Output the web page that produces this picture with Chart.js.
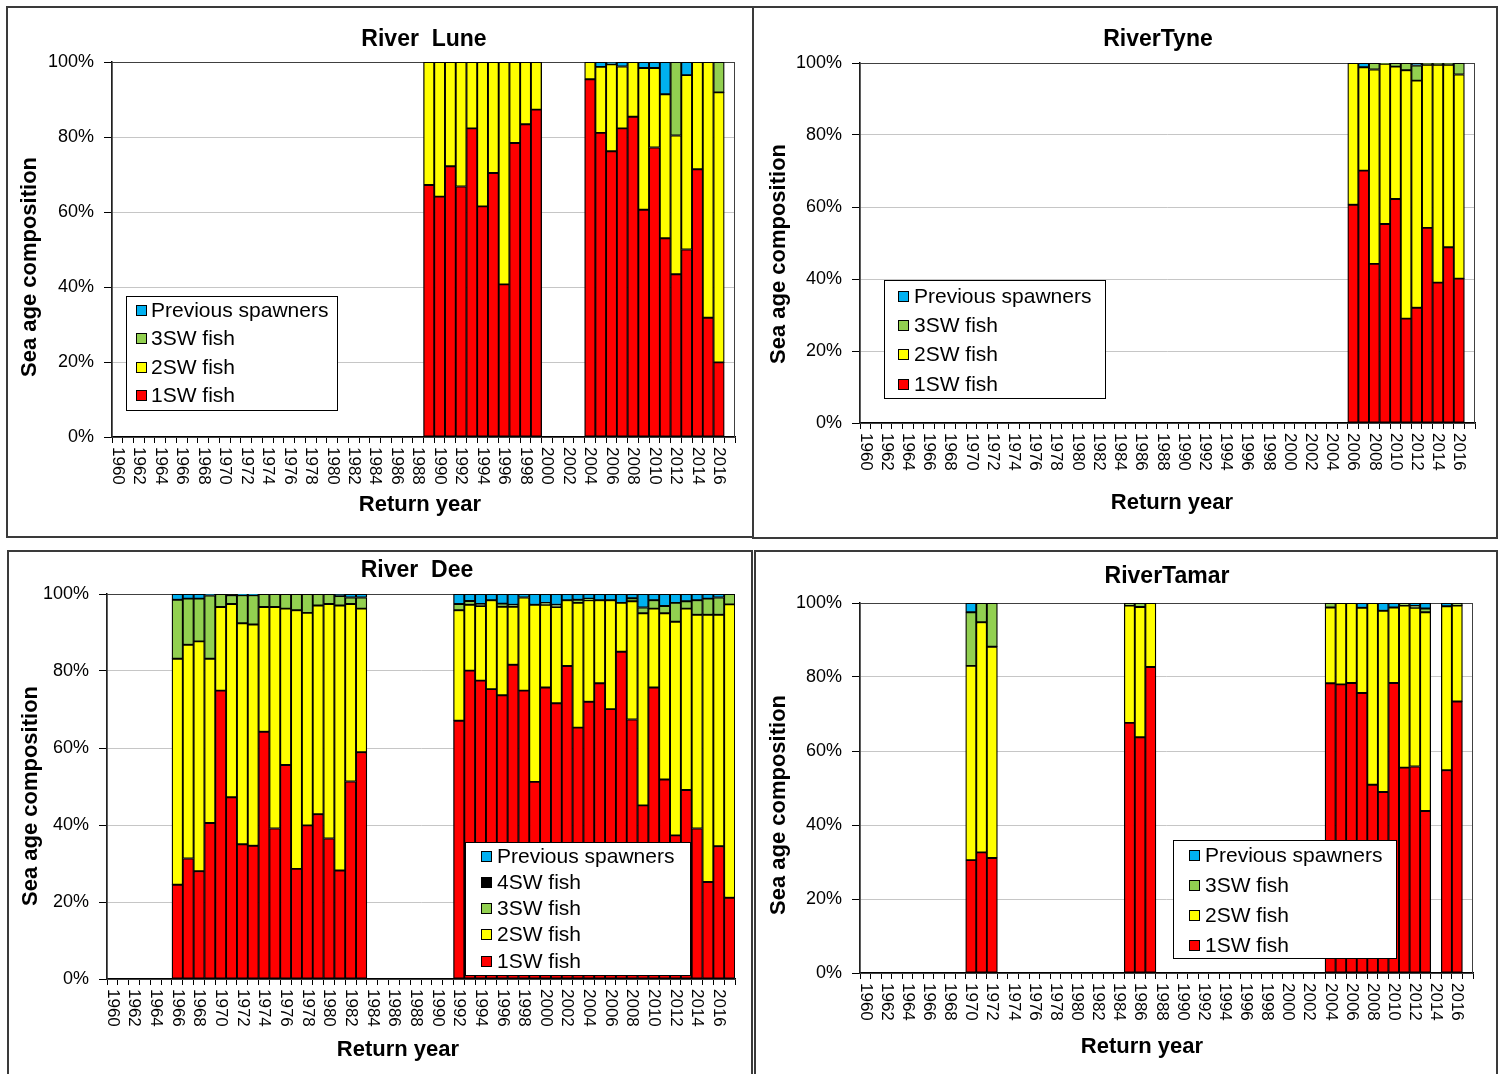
<!DOCTYPE html>
<html>
<head>
<meta charset="utf-8">
<script src="https://cdn.jsdelivr.net/npm/chart.js@4.4.1/dist/chart.umd.min.js"></script>
<style>
  body { margin: 0; background: #fff; width: 1503px; height: 1074px; overflow: hidden; position: relative; }
  .box { position: absolute; border: 2px solid #3a3a3a; box-sizing: border-box; }
  canvas { position: absolute; }
</style>
</head>
<body>
<div class="box" style="left:6px;top:6px;width:748px;height:532px"></div>
<div class="box" style="left:752px;top:6px;width:746px;height:533px"></div>
<div class="box" style="left:7px;top:550px;width:746px;height:560px"></div>
<div class="box" style="left:754px;top:550px;width:744px;height:560px"></div>
<canvas id="lune"></canvas>
<canvas id="tyne"></canvas>
<canvas id="dee"></canvas>
<canvas id="tamar"></canvas>
<script>
// categories (return years)
const YEARS = [1960, 1961, 1962, 1963, 1964, 1965, 1966, 1967, 1968, 1969,
               1970, 1971, 1972, 1973, 1974, 1975, 1976, 1977, 1978, 1979,
               1980, 1981, 1982, 1983, 1984, 1985, 1986, 1987, 1988, 1989,
               1990, 1991, 1992, 1993, 1994, 1995, 1996, 1997, 1998, 1999,
               2000, 2001, 2002, 2003, 2004, 2005, 2006, 2007, 2008, 2009,
               2010, 2011, 2012, 2013, 2014, 2015, 2016, 2017];

// River Lune (% of run)
const luneYears = [1989, 1990, 1991, 1992, 1993, 1994, 1995, 1996, 1997, 1998, 1999,
                   2004, 2005, 2006, 2007, 2008, 2009, 2010, 2011, 2012, 2013, 2014, 2015, 2016];
const lune1SW  = [67.2, 64.1, 72.2, 66.8, 82.3, 61.5, 70.4, 40.7, 78.4, 83.4, 87.3,
                  95.4, 81.1, 76.2, 82.3, 85.4, 60.6, 77.2, 53.0, 43.4, 50.0, 71.4, 31.8, 19.9];
const lune2SW  = [32.8, 35.9, 27.8, 33.2, 17.7, 38.5, 29.6, 59.3, 21.6, 16.6, 12.7,
                  4.6, 17.6, 23.2, 16.5, 14.6, 37.8, 21.2, 38.4, 37.0, 46.5, 28.6, 68.2, 72.0];
const lune3SW  = [null, null, null, null, null, null, null, null, null, null, null,
                  null, null, null, null, null, null, null, null, 19.6, null, null, null, 8.1];
const lunePrev = [null, null, null, null, null, null, null, null, null, null, null,
                  null, 1.3, 0.6, 1.2, null, 1.6, 1.6, 8.6, null, 3.5, null, null, null];

// River Tyne
const tyneYears = [2006, 2007, 2008, 2009, 2010, 2011, 2012, 2013, 2014, 2015, 2016];
const tyne1SW  = [60.6, 70.1, 44.2, 55.3, 62.2, 29.0, 32.0, 54.2, 39.0, 48.8, 40.1];
const tyne2SW  = [39.4, 28.7, 54.0, 44.5, 36.8, 69.0, 63.1, 45.3, 60.5, 50.7, 56.7];
const tyne3SW  = [null, null, 1.8, 0.2, 1.0, 2.0, 4.2, 0.5, 0.5, 0.5, 3.2];
const tynePrev = [null, 1.2, null, null, null, null, 0.7, null, null, null, null];

// River Dee
const deeYears = [1966, 1967, 1968, 1969, 1970, 1971, 1972, 1973, 1974, 1975, 1976, 1977,
                  1978, 1979, 1980, 1981, 1982, 1983,
                  1992, 1993, 1994, 1995, 1996, 1997, 1998, 1999, 2000, 2001, 2002, 2003,
                  2004, 2005, 2006, 2007, 2008, 2009, 2010, 2011, 2012, 2013, 2014, 2015, 2016, 2017];
const dee1SW  = [24.5, 31.3, 28.0, 40.5, 74.9, 47.2, 35.0, 34.6, 64.2, 39.1, 55.6, 28.6,
                 39.9, 42.8, 36.5, 28.2, 51.3, 58.9,
                 67.1, 80.1, 77.5, 75.3, 73.7, 81.6, 74.9, 51.2, 75.7, 71.6, 81.3, 65.3,
                 72.0, 76.8, 70.1, 85.0, 67.4, 45.1, 75.7, 51.8, 37.3, 49.1, 39.1, 25.2, 34.5, 21.1];
const dee2SW  = [58.7, 55.5, 59.7, 42.7, 21.7, 50.2, 57.4, 57.5, 32.4, 57.5, 40.6, 67.2,
                 55.2, 54.2, 60.9, 68.8, 46.1, 37.3,
                 28.7, 17.1, 19.4, 23.1, 23.0, 15.1, 24.2, 46.0, 21.5, 25.0, 17.1, 32.4,
                 26.4, 21.6, 28.3, 12.7, 30.7, 49.9, 20.5, 43.2, 55.5, 47.1, 55.5, 69.4, 60.1, 76.2];
const dee3SW  = [15.3, 12.0, 11.1, 16.4, 3.4, 2.3, 7.3, 7.6, 3.4, 3.4, 3.8, 4.2,
                 4.9, 3.0, 2.6, 2.5, 1.7, 2.9,
                 1.6, 1.0, 0.5, null, 0.8, 0.5, null, null, 0.5, 0.6, null, 0.8,
                 0.4, null, null, null, 0.8, 1.5, 2.2, 1.9, 4.9, 1.9, 3.8, 4.2, 4.5, 2.7];
const deePrev = [1.5, 1.2, 1.2, 0.4, null, null, 0.3, 0.3, null, null, null, null,
                 null, null, null, 0.5, 0.9, 0.9,
                 2.6, 1.8, 2.6, 1.6, 2.5, 2.8, 0.9, 2.8, 2.3, 2.8, 1.6, 1.5,
                 1.2, 1.6, 1.6, 2.3, 1.1, 3.5, 1.6, 3.1, 2.3, 1.9, 1.6, 1.2, 0.9, null];
const dee4SWYears = [1971];
const dee4SW = [0.3];

// River Tamar
const tamarYears = [1970, 1971, 1972, 1985, 1986, 1987, 2004, 2005, 2006, 2007, 2008, 2009,
                    2010, 2011, 2012, 2013, 2015, 2016];
const tamar1SW  = [30.5, 32.6, 31.1, 67.6, 63.7, 82.7, 78.3, 78.0, 78.4, 75.7, 50.9, 48.9,
                   78.4, 55.5, 55.8, 43.8, 54.8, 73.4];
const tamar2SW  = [52.5, 62.2, 57.1, 31.7, 35.2, 17.3, 20.5, 22.0, 21.6, 23.0, 49.1, 49.0,
                   20.4, 43.8, 42.9, 53.7, 44.3, 25.9];
const tamar3SW  = [14.5, 5.2, 11.8, 0.7, 1.1, null, 1.2, null, null, null, null, null,
                   null, 0.7, 0.5, 1.0, null, 0.7];
const tamarPrev = [2.5, null, null, null, null, null, null, null, null, 1.3, null, 2.1,
                   1.2, null, 0.8, 1.5, 0.9, null];

const FONT = '"Liberation Sans", Arial, sans-serif';
const RED = '#FF0000', YELLOW = '#FFFF00', GREEN = '#92D050', BLACK = '#000000', BLUE = '#00B0F0';

// put a river's values onto the full 1960-2017 axis
function spread(years, values) {
    return YEARS.map(y => {
        const i = years.indexOf(y);
        return i < 0 ? null : values[i];
    });
}

function series(label, color, years, values) {
    return {
        label: label,
        data: spread(years, values),
        backgroundColor: color,
        borderColor: '#000',
        borderWidth: 1.3,
        borderSkipped: false,
        stack: 'age',
        barPercentage: 1,
        categoryPercentage: 1
    };
}

// cv = canvas rect on page, plot = plot rect on page [l, t, r, b], everything else in page coords
function makePanel(id, cv, plot, datasets, deco) {
    const el = document.getElementById(id);
    el.style.left = cv.x + 'px';
    el.style.top = cv.y + 'px';
    el.width = cv.w;
    el.height = cv.h;

    const YW = 95, XH = 60;
    const ox = cv.x, oy = cv.y;

    const decorPlugin = {
        id: 'decor_' + id,
        beforeDatasetsDraw(chart) {
            const ctx = chart.ctx, a = chart.chartArea;
            ctx.save();
            ctx.strokeStyle = '#404040';
            ctx.lineWidth = 1;
            ctx.strokeRect(a.left, a.top + 0.5, a.right - a.left - 0.5, a.bottom - a.top);
            ctx.restore();
        },
        afterDraw(chart) {
            const ctx = chart.ctx, a = chart.chartArea, xs = chart.scales.x;
            ctx.save();
            ctx.fillStyle = '#000';

            // year labels, rotated clockwise
            ctx.font = '17px ' + FONT;
            ctx.textAlign = 'left';
            ctx.textBaseline = 'middle';
            YEARS.forEach((y, i) => {
                if (y % 2) return;
                ctx.save();
                ctx.translate(xs.getPixelForValue(i), a.bottom + 10);
                ctx.rotate(Math.PI / 2);
                ctx.fillText(String(y), 0, 0);
                ctx.restore();
            });

            // title and axis titles
            ctx.textAlign = 'center';
            ctx.font = 'bold 23px ' + FONT;
            ctx.fillText(deco.title, deco.titlePos[0] - ox, deco.titlePos[1] - oy);
            ctx.font = 'bold 22px ' + FONT;
            ctx.fillText('Return year', deco.xTitle[0] - ox, deco.xTitle[1] - oy);
            ctx.save();
            ctx.translate(deco.yTitle[0] - ox, deco.yTitle[1] - oy);
            ctx.rotate(-Math.PI / 2);
            ctx.fillText('Sea age composition', 0, 0);
            ctx.restore();

            // legend box
            const lg = deco.legend;
            ctx.fillStyle = '#fff';
            ctx.fillRect(lg.box[0] - ox, lg.box[1] - oy, lg.box[2] - lg.box[0], lg.box[3] - lg.box[1]);
            ctx.strokeStyle = '#000';
            ctx.lineWidth = 1;
            ctx.strokeRect(lg.box[0] - ox + 0.5, lg.box[1] - oy + 0.5, lg.box[2] - lg.box[0], lg.box[3] - lg.box[1]);
            const items = chart.data.datasets.slice().reverse();
            ctx.font = '21px ' + FONT;
            ctx.textAlign = 'left';
            items.forEach((d, k) => {
                const cy = lg.rows[k] - oy;
                ctx.fillStyle = d.backgroundColor;
                ctx.fillRect(lg.markX - ox, cy - 5, 10, 10);
                ctx.strokeRect(lg.markX - ox + 0.5, cy - 5 + 0.5, 10, 10);
                ctx.fillStyle = '#000';
                ctx.fillText(d.label, lg.textX - ox, cy + 1);
            });
            ctx.restore();
        }
    };

    return new Chart(el, {
        type: 'bar',
        data: { labels: YEARS, datasets: datasets },
        options: {
            responsive: false,
            animation: false,
            layout: {
                padding: {
                    left: plot[0] - ox - YW,
                    top: plot[1] - oy,
                    right: ox + cv.w - plot[2],
                    bottom: oy + cv.h - plot[3] - XH
                }
            },
            plugins: { legend: { display: false }, tooltip: { enabled: false } },
            scales: {
                x: {
                    stacked: true,
                    ticks: { display: false },
                    grid: { drawOnChartArea: false, color: '#000', tickLength: 6 },
                    border: { color: '#000', width: 1.5 },
                    afterFit: s => { s.height = XH; }
                },
                y: {
                    stacked: true,
                    min: 0,
                    max: 100,
                    ticks: {
                        stepSize: 20,
                        padding: 10,
                        color: '#000',
                        font: { family: FONT, size: 18 },
                        callback: v => v + '%'
                    },
                    grid: { color: '#c6c6c6', tickColor: '#000', tickLength: 8 },
                    border: { color: '#000', width: 1.5 },
                    afterFit: s => { s.width = YW; }
                }
            }
        },
        plugins: [decorPlugin]
    });
}

makePanel('lune', { x: 8, y: 8, w: 744, h: 528 }, [112, 62, 735, 437], [
    series('1SW fish', RED, luneYears, lune1SW),
    series('2SW fish', YELLOW, luneYears, lune2SW),
    series('3SW fish', GREEN, luneYears, lune3SW),
    series('Previous spawners', BLUE, luneYears, lunePrev)
], {
    title: 'River  Lune', titlePos: [424, 40],
    xTitle: [420, 505], yTitle: [30, 267],
    legend: { box: [126, 296, 337, 410], rows: [310, 338, 367, 395], markX: 136, textX: 151 }
});

makePanel('tyne', { x: 754, y: 8, w: 742, h: 529 }, [860, 63, 1475, 423], [
    series('1SW fish', RED, tyneYears, tyne1SW),
    series('2SW fish', YELLOW, tyneYears, tyne2SW),
    series('3SW fish', GREEN, tyneYears, tyne3SW),
    series('Previous spawners', BLUE, tyneYears, tynePrev)
], {
    title: 'RiverTyne', titlePos: [1158, 40],
    xTitle: [1172, 503], yTitle: [779, 254],
    legend: { box: [884, 280, 1105, 398], rows: [296, 325, 354, 384], markX: 898, textX: 914 }
});

makePanel('dee', { x: 9, y: 552, w: 742, h: 522 }, [107, 594, 735, 979], [
    series('1SW fish', RED, deeYears, dee1SW),
    series('2SW fish', YELLOW, deeYears, dee2SW),
    series('3SW fish', GREEN, deeYears, dee3SW),
    series('4SW fish', BLACK, dee4SWYears, dee4SW),
    series('Previous spawners', BLUE, deeYears, deePrev)
], {
    title: 'River  Dee', titlePos: [417, 571],
    xTitle: [398, 1050], yTitle: [31, 796],
    legend: { box: [465, 842, 690, 975], rows: [856, 882, 908, 934, 961], markX: 481, textX: 497 }
});

makePanel('tamar', { x: 756, y: 552, w: 740, h: 522 }, [860, 603, 1473, 973], [
    series('1SW fish', RED, tamarYears, tamar1SW),
    series('2SW fish', YELLOW, tamarYears, tamar2SW),
    series('3SW fish', GREEN, tamarYears, tamar3SW),
    series('Previous spawners', BLUE, tamarYears, tamarPrev)
], {
    title: 'RiverTamar', titlePos: [1167, 577],
    xTitle: [1142, 1047], yTitle: [779, 805],
    legend: { box: [1173, 840, 1396, 958], rows: [855, 885, 915, 945], markX: 1189, textX: 1205 }
});
</script>
</body>
</html>
